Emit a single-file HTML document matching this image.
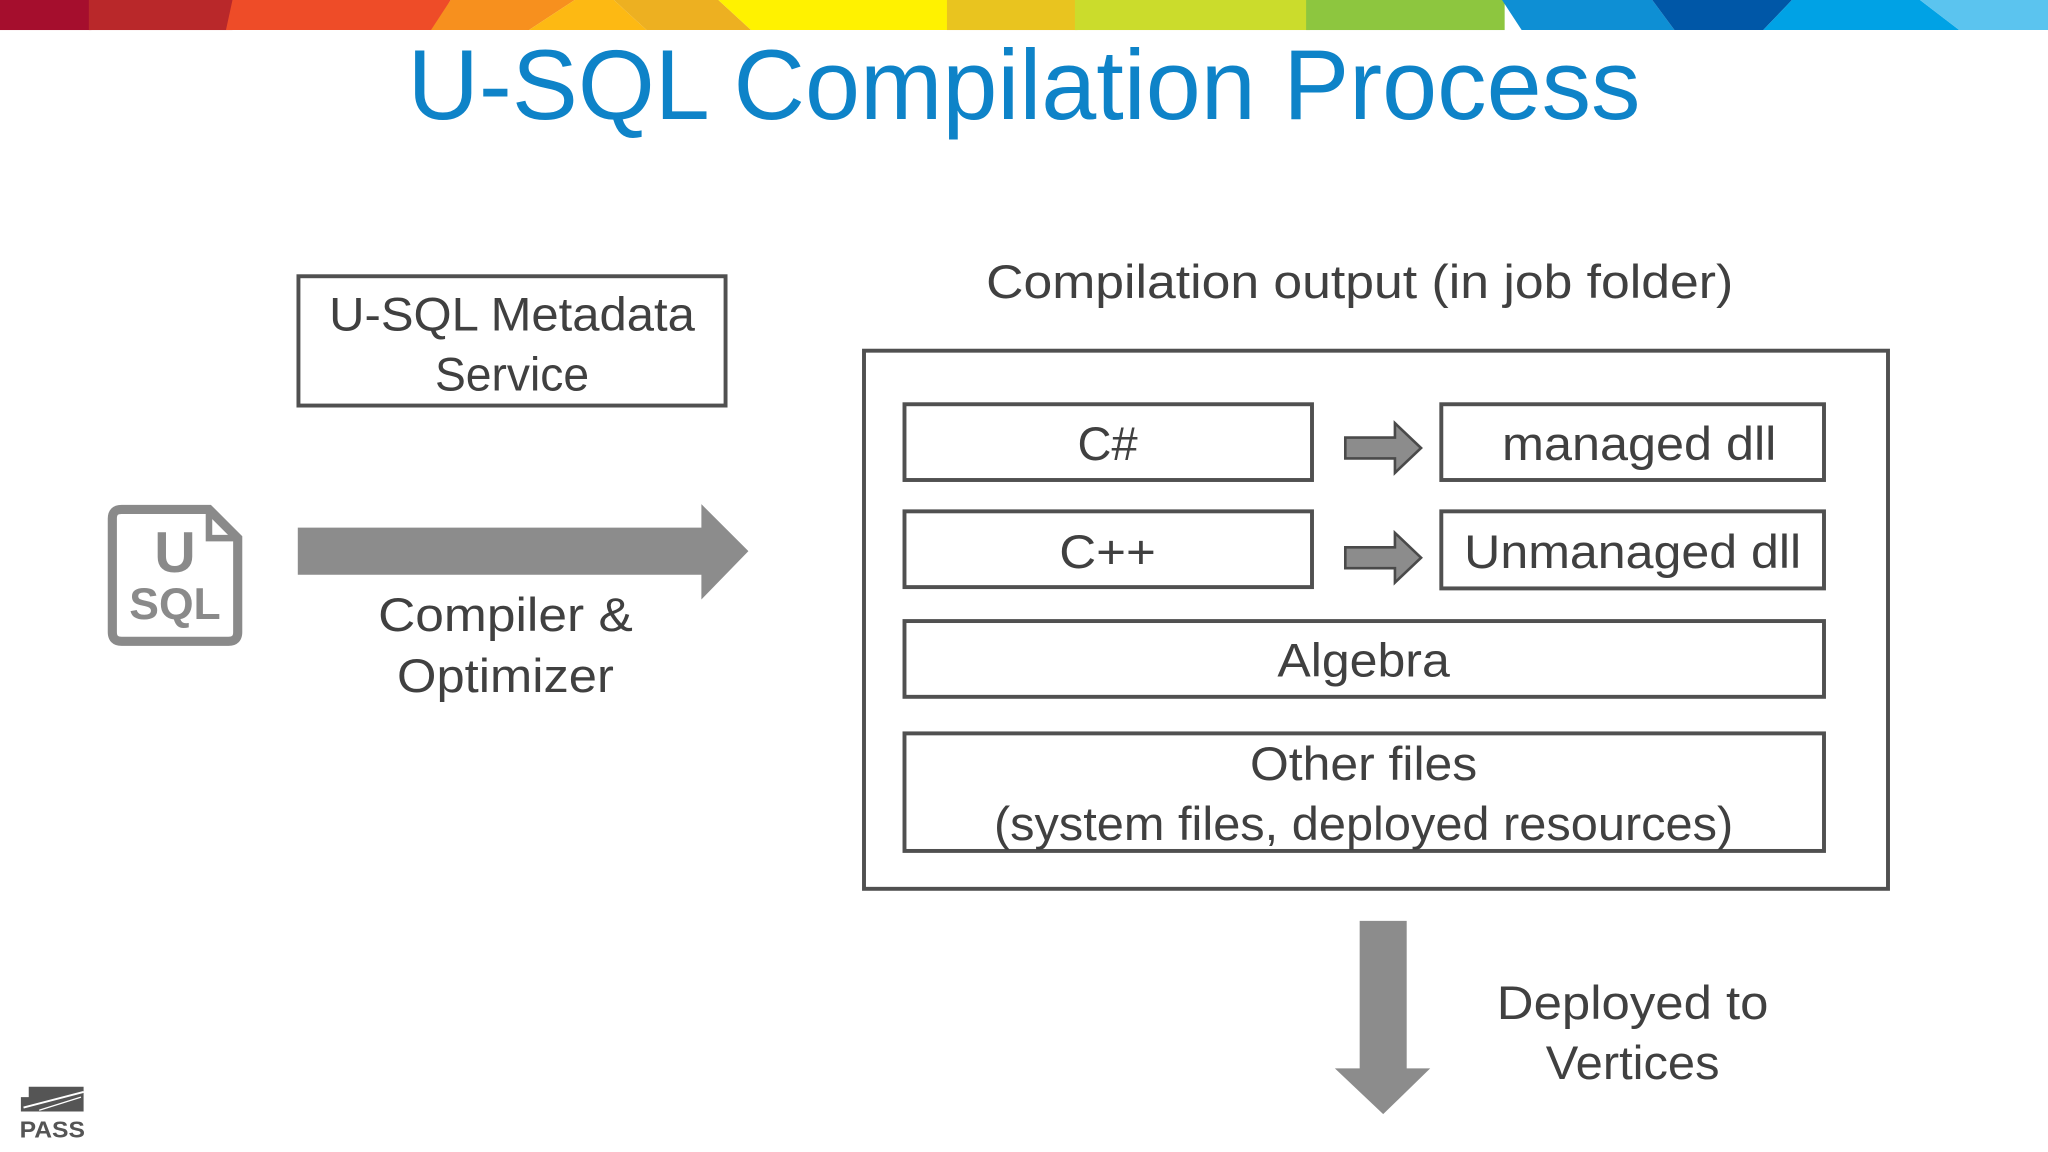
<!DOCTYPE html>
<html><head><meta charset="utf-8"><style>
html,body{margin:0;padding:0;background:#fff;}
svg{display:block;}
text{font-family:"Liberation Sans","DejaVu Sans",sans-serif;fill:#404040;}
</style></head><body>
<svg width="2048" height="1152" viewBox="0 0 1568 882" xmlns="http://www.w3.org/2000/svg">
<rect width="1568" height="882" fill="#fff"/>
<!-- top bar -->
<g>
<rect x="0" y="0" width="70" height="23" fill="#a50e2d"/>
<rect x="68" y="0" width="110" height="23" fill="#b9282a"/>
<polygon points="178,0 345,0 332,23 173,23" fill="#ee4c28"/>
<polygon points="345,0 440,0 405,23 330,23" fill="#f7901e"/>
<polygon points="440,0 470,0 495,23 405,23" fill="#fdb913"/>
<polygon points="470,0 550,0 575,23 495,23" fill="#edb021"/>
<polygon points="550,0 725,0 732,23 575,23" fill="#fff200"/>
<rect x="725" y="0" width="100" height="23" fill="#e9c41f"/>
<rect x="823" y="0" width="180" height="23" fill="#cbdc2c"/>
<rect x="1000" y="0" width="152" height="23" fill="#8dc63f"/>
<polygon points="1150,0 1265,0 1282,23 1165,23" fill="#0e8fd4"/>
<polygon points="1265,0 1372,0 1350,23 1282,23" fill="#0057a7"/>
<polygon points="1372,0 1470,0 1500,23 1350,23" fill="#00a2e5"/>
<polygon points="1470,0 1568,0 1568,23 1500,23" fill="#5bc4ef"/>
</g>
<text x="784" y="91" text-anchor="middle" font-size="76" style="fill:#0e83c8" textLength="944" lengthAdjust="spacingAndGlyphs">U-SQL Compilation Process</text>

<!-- metadata box -->
<rect x="228.5" y="211.5" width="327" height="99" fill="none" stroke="#505050" stroke-width="3"/>
<text x="392" y="253" text-anchor="middle" font-size="36" textLength="280" lengthAdjust="spacingAndGlyphs">U-SQL Metadata</text>
<text x="392" y="299" text-anchor="middle" font-size="36" textLength="118" lengthAdjust="spacingAndGlyphs">Service</text>

<!-- U-SQL icon -->
<path d="M93,390 H160 L182,412 V484 Q182,491 175,491 H93 Q86,491 86,484 V397 Q86,390 93,390 Z" fill="none" stroke="#8a8a8a" stroke-width="7"/>
<path d="M160,390 V412 H182" fill="none" stroke="#8a8a8a" stroke-width="5"/>
<text x="134" y="438" text-anchor="middle" font-size="44" font-weight="bold" style="fill:#8a8a8a">U</text>
<text x="134" y="474" text-anchor="middle" font-size="34" font-weight="bold" style="fill:#8a8a8a" textLength="70" lengthAdjust="spacingAndGlyphs">SQL</text>

<!-- big arrow -->
<polygon points="228,404 537,404 537,386 573,422 537,459 537,440 228,440" fill="#8c8c8c"/>
<text x="387" y="483" text-anchor="middle" font-size="36" textLength="195" lengthAdjust="spacingAndGlyphs">Compiler &amp;</text>
<text x="387" y="530" text-anchor="middle" font-size="36" textLength="166" lengthAdjust="spacingAndGlyphs">Optimizer</text>

<!-- compilation output -->
<text x="1041" y="228" text-anchor="middle" font-size="36" textLength="572" lengthAdjust="spacingAndGlyphs">Compilation output (in job folder)</text>
<rect x="661.5" y="268.5" width="784" height="412" fill="none" stroke="#505050" stroke-width="3"/>

<g fill="none" stroke="#505050" stroke-width="3">
<rect x="692.5" y="309.5" width="312" height="58"/>
<rect x="1103.5" y="309.5" width="293" height="58"/>
<rect x="692.5" y="391.5" width="312" height="58"/>
<rect x="1103.5" y="391.5" width="293" height="59"/>
<rect x="692.5" y="475.5" width="704" height="58"/>
<rect x="692.5" y="561.5" width="704" height="90"/>
</g>
<text x="848" y="352" text-anchor="middle" font-size="36">C#</text>
<text x="1255" y="352" text-anchor="middle" font-size="36" textLength="210" lengthAdjust="spacingAndGlyphs">managed dll</text>
<text x="848" y="435" text-anchor="middle" font-size="36" textLength="74" lengthAdjust="spacingAndGlyphs">C++</text>
<text x="1250" y="435" text-anchor="middle" font-size="36" textLength="258" lengthAdjust="spacingAndGlyphs">Unmanaged dll</text>
<text x="1044" y="518" text-anchor="middle" font-size="36" textLength="132" lengthAdjust="spacingAndGlyphs">Algebra</text>
<text x="1044" y="597" text-anchor="middle" font-size="36" textLength="174" lengthAdjust="spacingAndGlyphs">Other files</text>
<text x="1044" y="643" text-anchor="middle" font-size="36" textLength="566" lengthAdjust="spacingAndGlyphs">(system files, deployed resources)</text>

<g fill="#8c8c8c" stroke="#4a4a4a" stroke-width="2" stroke-linejoin="miter">
<polygon points="1030,335 1068,335 1068,324 1088,343 1068,362 1068,351 1030,351"/>
<polygon points="1030,419 1068,419 1068,408 1088,427 1068,446 1068,435 1030,435"/>
</g>

<!-- down arrow -->
<polygon points="1041,705 1077,705 1077,818 1095,818 1059,853 1022,818 1041,818" fill="#8c8c8c"/>
<text x="1250" y="780" text-anchor="middle" font-size="36" textLength="208" lengthAdjust="spacingAndGlyphs">Deployed to</text>
<text x="1250" y="826" text-anchor="middle" font-size="36" textLength="133" lengthAdjust="spacingAndGlyphs">Vertices</text>

<!-- PASS logo -->
<polygon points="22,832 64,832 64,851 16,851 16,840 22,840" fill="#555"/>
<line x1="18" y1="848" x2="64" y2="836" stroke="#fff" stroke-width="1.5"/>
<line x1="30" y1="850" x2="62" y2="840" stroke="#fff" stroke-width="1"/>
<text x="40" y="871" text-anchor="middle" font-size="18" font-weight="bold" style="fill:#555" textLength="50" lengthAdjust="spacingAndGlyphs">PASS</text>
</svg>
</body></html>
